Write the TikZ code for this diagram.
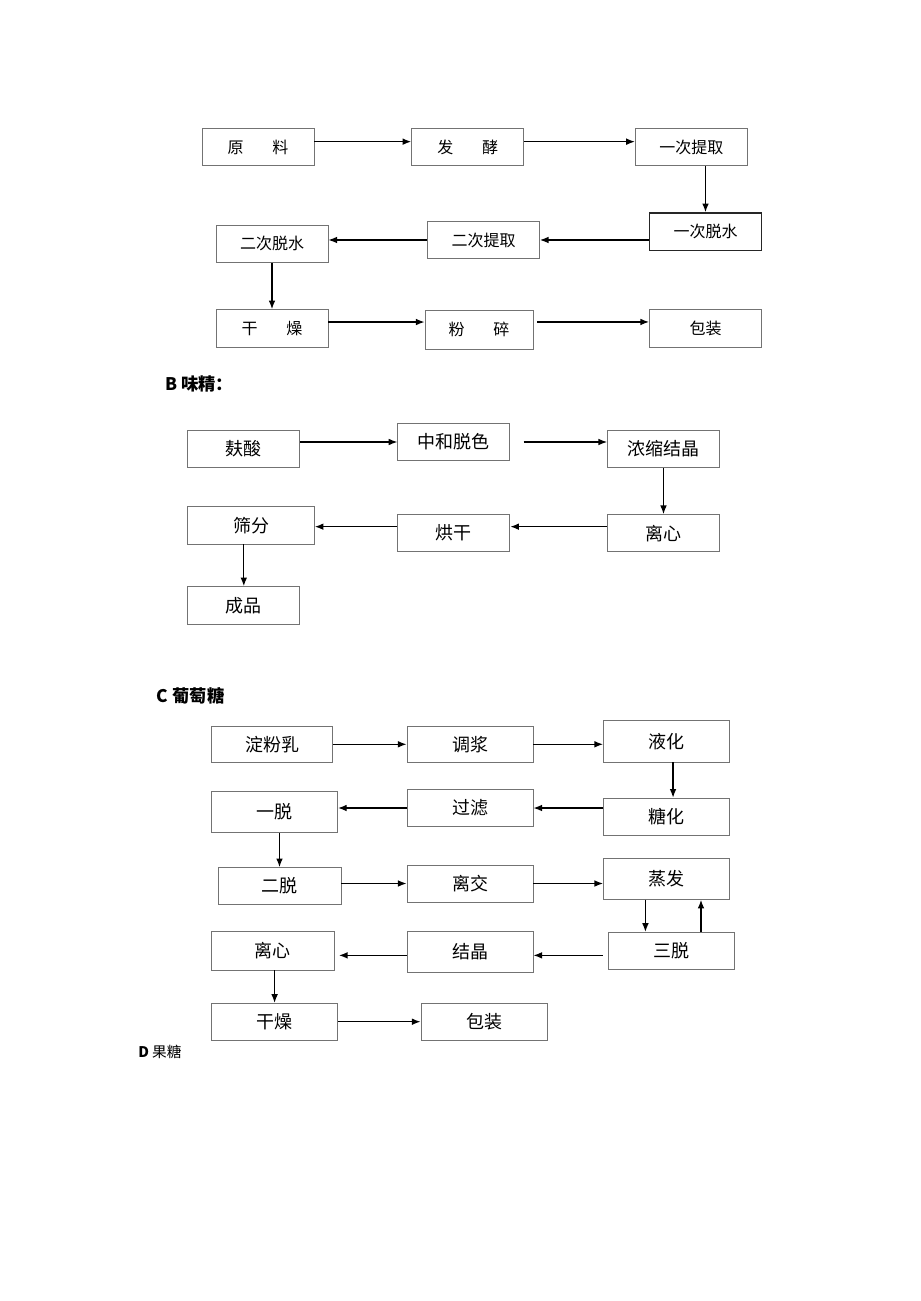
\documentclass[tikz,border=0pt]{standalone}
\usepackage{fontspec}
\setmainfont{Noto Sans CJK SC}
\usetikzlibrary{arrows.meta}

\begin{document}
\begin{tikzpicture}[x=0.75pt, y=-0.75pt,
  box/.style={rectangle, draw=black!55, line width=0.6pt, inner sep=0pt, minimum width=84pt, minimum height=28pt, font=\fontsize{12}{14}\selectfont},
  wbox/.style={box, minimum width=94.5pt, minimum height=27.6pt, font=\fontsize{13.5}{16}\selectfont},
  flow/.style={-{Latex[length=6.5pt,width=5pt]}, line width=1pt},
  title/.style={anchor=west, inner sep=0pt, font=\fontsize{13}{15}\selectfont\bfseries}]
  \useasboundingbox[fill=white] (0,0) rectangle (920,1301);

  \node[box] (A1) at (258,147) {原\hspace{1.8em}料};
  \node[box] (A2) at (467.7,147) {发\hspace{1.8em}酵};
  \node[box] (A3) at (691.3,147) {一次提取};
  \node[box, draw=black!85, line width=1.2pt] (A4) at (705.5,231.7) {一次脱水};
  \node[box] (A5) at (483.5,240) {二次提取};
  \node[box] (A6) at (272,243.7) {二次脱水};
  \node[box] (A7) at (272,328.3) {干\hspace{1.8em}燥};
  \node[box, minimum width=81pt, minimum height=29pt] (A8) at (479,329.7) {粉\hspace{1.8em}碎};
  \node[box] (A9) at (705.5,328.3) {包装};
  \draw[flow] ([yshift=4pt]A1.east) -- ([yshift=4pt]A2.west);
  \draw[flow] ([yshift=4pt]A2.east) -- ([yshift=4pt]A3.west);
  \draw[flow] (A3.south -| A4) -- (A4);
  \draw[flow] (A4.west |- A5) -- (A5);
  \draw[flow] (A5) -- (A5 -| A6.east);
  \draw[flow] (A6) -- (A7);
  \draw[flow] ([yshift=4.7pt]A7.east) -- ([yshift=4.7pt]A7.east -| A8.west);
  \draw[flow] ([xshift=3pt,yshift=5.8pt]A8.east) -- ([yshift=5.8pt]A8.east -| A9.west);

  \node[title] (Bt) at (165,384) {B 味精：};
  \node[box, font=\fontsize{13.5}{16}\selectfont] (B1) at (243.8,448.7) {麸酸};
  \node[box, font=\fontsize{13.5}{16}\selectfont] (B2) at (453.8,442) {中和脱色};
  \node[box, font=\fontsize{13.5}{16}\selectfont] (B3) at (663.5,448.7) {浓缩结晶};
  \node[box, font=\fontsize{13.5}{16}\selectfont] (B4) at (663.5,533.2) {离心};
  \node[box, font=\fontsize{13.5}{16}\selectfont] (B5) at (453.8,533.2) {烘干};
  \node[box, font=\fontsize{13.5}{16}\selectfont, minimum width=95pt] (B6) at (251,525.3) {筛分};
  \node[box, font=\fontsize{13.5}{16}\selectfont] (B7) at (243.8,605.3) {成品};
  \draw[flow] (B2.west -| B1.east) -- (B2.west);
  \draw[flow] ([xshift=10pt]B2.east) -- (B2.east -| B3.west);
  \draw[flow] (B3) -- (B4);
  \draw[flow] ([yshift=4.9pt]B4.west) -- ([yshift=4.9pt]B5.east);
  \draw[flow] ([yshift=4.9pt]B5.west) -- ([yshift=4.9pt]B5.west -| B6.east);
  \draw[flow] (B6.south -| B7) -- (B7);

  \node[title] (Ct) at (156.7,696) {C 葡萄糖};
  \node[wbox, minimum width=91pt] (C1) at (272,744.3) {淀粉乳};
  \node[wbox] (C2) at (470,744.3) {调浆};
  \node[wbox, minimum height=31pt] (C3) at (666.5,741.3) {液化};
  \node[wbox] (C4) at (666.5,816.5) {糖化};
  \node[wbox] (C5) at (470,808) {过滤};
  \node[wbox, minimum height=31.3pt] (C6) at (274.6,812) {一脱};
  \node[wbox, minimum width=92.3pt] (C7) at (279.5,886) {二脱};
  \node[wbox] (C8) at (470,883.5) {离交};
  \node[wbox, minimum height=30.5pt] (C9) at (666.5,879) {蒸发};
  \node[wbox] (C10) at (671,950.7) {三脱};
  \node[wbox, minimum height=30.8pt] (C11) at (470,951.5) {结晶};
  \node[wbox, minimum width=92pt, minimum height=29.3pt] (C12) at (272.7,950.5) {离心};
  \node[wbox] (C13) at (274.6,1021.7) {干燥};
  \node[wbox] (C14) at (484,1021.7) {包装};
  \draw[flow] (C1) -- (C2);
  \draw[flow] (C2) -- (C2 -| C3.west);
  \draw[flow] ([xshift=4.9pt]C3.south) -- ([xshift=4.9pt]C4.north);
  \draw[flow] (C4.west |- C5) -- (C5);
  \draw[flow] (C5) -- (C5 -| C6.east);
  \draw[flow] (C6.south -| C7) -- (C7);
  \draw[flow] (C7.east |- C8) -- (C8);
  \draw[flow] (C8) -- (C8 -| C9.west);
  \draw[flow] ([xshift=-15.8pt]C9.south) -- ([xshift=-15.8pt]C9.south |- C10.north);
  \draw[flow] ([xshift=22.5pt]C10.north) -- ([xshift=22.5pt]C10.north |- C9.south);
  \draw[flow] ([xshift=-3.75pt,yshift=-3.5pt]C10.west) -- ([yshift=-3.5pt]C10.west -| C11.east);
  \draw[flow] ([yshift=-2.9pt]C11.west) -- ([xshift=3.4pt,yshift=-2.9pt]C11.west -| C12.east);
  \draw[flow] (C12.south -| C13) -- (C13);
  \draw[flow] (C13) -- (C14);

  \node[anchor=west, inner sep=0pt, font=\fontsize{11}{13}\selectfont] (Dt) at (138,1052) {\textbf{D} 果糖};
\end{tikzpicture}
\end{document}
